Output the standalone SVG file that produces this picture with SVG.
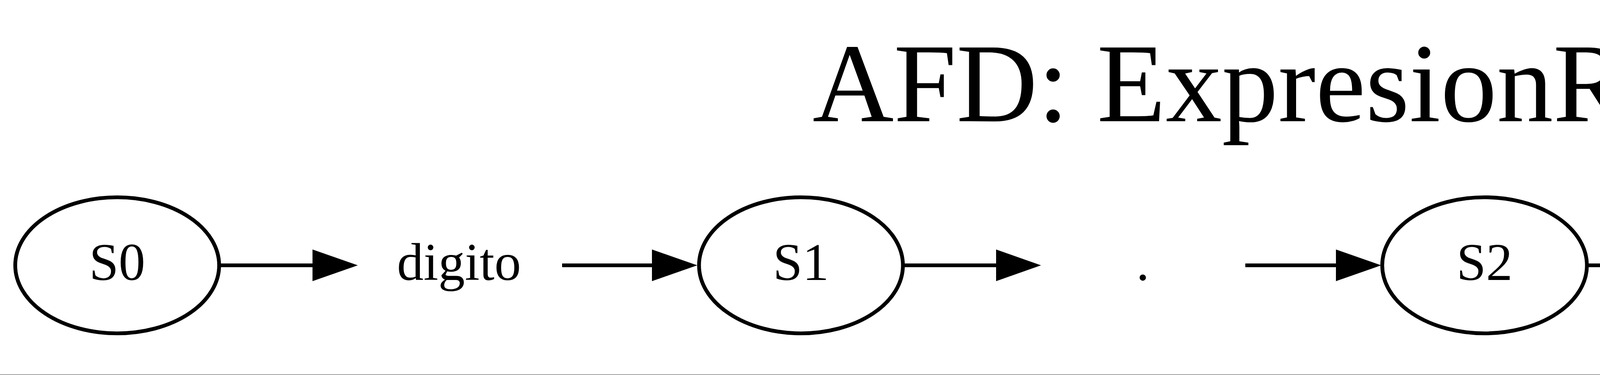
<svg xmlns="http://www.w3.org/2000/svg" width="6685" height="959" viewBox="0 0 6685 959">
<style>
.node ellipse, .node circle { fill: #ffffff; stroke: #000000; stroke-width: 9.7; }
.lbl { font-family: "Liberation Serif", "Times New Roman", serif; font-size: 136px; fill: #000000; text-anchor: middle; }
.title { font-family: "Liberation Serif", "Times New Roman", serif; font-size: 288px; fill: #000000; text-anchor: middle; }
.edge { fill: none; stroke: #000000; stroke-width: 9.7; }
.head { fill: #000000; stroke: none; }
</style>
<rect x="0" y="0" width="6685" height="959" fill="#ffffff"/>
<text class="title" x="3332" y="310">AFD: ExpresionReg2</text>

<g id="connectors">
  <g id="e_S0_d1"><path class="edge" d="M561,678.5 L801,678.5"/><polygon class="head" points="800,638 916,678.5 800,719"/></g>
  <g id="e_d1_S1"><path class="edge" d="M1439,678.5 L1670,678.5"/><polygon class="head" points="1669,638 1785,678.5 1669,719"/></g>
  <g id="e_S1_dot"><path class="edge" d="M2311,678.5 L2551,678.5"/><polygon class="head" points="2550,638 2665,678.5 2550,719"/></g>
  <g id="e_dot_S2"><path class="edge" d="M3188,678.5 L3421,678.5"/><polygon class="head" points="3420,638 3536,678.5 3420,719"/></g>
  <g id="e_S2_d2"><path class="edge" d="M4063,678.5 L4300,678.5"/><polygon class="head" points="4299,638 4415,678.5 4299,719"/></g>
  <g id="e_d2_S3"><path class="edge" d="M4936,678.5 L5172,678.5"/><polygon class="head" points="5171,638 5288,678.5 5171,719"/></g>
  <g id="e_d3_S3"><path class="edge" d="M6123,617.5 C6060,612 5960,610 5879,613.5"/><polygon class="head" points="5878,573 5766,618.5 5882,654"/></g>
  <g id="e_S3_d3"><path class="edge" d="M5767,735 C5840,742 5930,744 6007,743.5"/><polygon class="head" points="6005,703 6123,739.5 6008,784"/></g>
</g>

<g id="S0" class="node"><ellipse cx="300" cy="678.5" rx="261" ry="174"/><text class="lbl" x="300" y="715.5">S0</text></g>
<g id="d1" class="node"><text class="lbl" x="1175" y="715.5">digito</text></g>
<g id="S1" class="node"><ellipse cx="2050.5" cy="678.5" rx="261" ry="174"/><text class="lbl" x="2050.5" y="715.5">S1</text></g>
<g id="dot" class="node"><text class="lbl" x="2925.5" y="715.5">.</text></g>
<g id="S2" class="node"><ellipse cx="3800.5" cy="678.5" rx="262" ry="174"/><text class="lbl" x="3800.5" y="715.5">S2</text></g>
<g id="d2" class="node"><text class="lbl" x="4675.5" y="715.5">digito</text></g>
<g id="S3" class="node"><circle cx="5529" cy="678" r="236.5"/><circle cx="5529" cy="678" r="198"/><text class="lbl" x="5529" y="715.5">S3</text></g>
<g id="d3" class="node"><text class="lbl" x="6378" y="715.5">digito</text></g>

<rect x="0" y="957" width="6685" height="2" fill="#a0a0a0"/>
</svg>
